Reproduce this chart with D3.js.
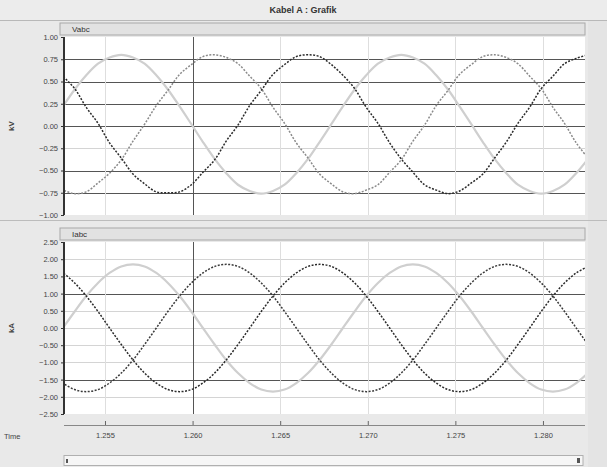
<!DOCTYPE html>
<html><head><meta charset="utf-8">
<script src="https://cdn.jsdelivr.net/npm/d3@7"></script>
<style>
body{margin:0;background:#e9e9e9}
text{font-family:"Liberation Sans",Arial,sans-serif}
</style>
</head><body>
<svg id="c" width="607" height="467"></svg>
<script>
// Sample times (s)
const time = [1.25194,1.25260,1.25327,1.25393,1.25460,1.25526,1.25593,1.25660,1.25726,1.25793,
  1.25859,1.25926,1.25993,1.26059,1.26126,1.26192,1.26259,1.26326,1.26392,1.26459,
  1.26525,1.26592,1.26659,1.26725,1.26792,1.26858,1.26925,1.26991,1.27058,1.27125,
  1.27191,1.27258,1.27324,1.27391,1.27458,1.27524,1.27591,1.27657,1.27724,1.27791,
  1.27857,1.27924,1.27990,1.28057,1.28123,1.28190,1.28257];

// Phase voltages (kV)
const vA = [0.70,0.56,0.42,0.21,0.03,-0.19,-0.36,-0.54,-0.65,-0.74,-0.75,-0.74,-0.66,-0.52,-0.38,-0.17,
  0.01,0.23,0.40,0.58,0.69,0.78,0.80,0.78,0.69,0.57,0.42,0.21,0.03,-0.19,-0.37,-0.52,
  -0.66,-0.72,-0.76,-0.73,-0.64,-0.54,-0.36,-0.18,0.03,0.21,0.42,0.56,0.70,0.76,0.80];
const vB = [0.02,0.22,0.41,0.57,0.70,0.77,0.80,0.77,0.70,0.57,0.41,0.22,0.02,-0.18,-0.37,-0.53,
  -0.66,-0.73,-0.76,-0.73,-0.66,-0.53,-0.37,-0.18,0.02,0.22,0.41,0.57,0.70,0.77,0.80,0.77,
  0.70,0.57,0.41,0.22,0.02,-0.18,-0.37,-0.53,-0.66,-0.73,-0.76,-0.73,-0.66,-0.53,-0.37];
const vC = [-0.66,-0.72,-0.76,-0.74,-0.64,-0.53,-0.38,-0.17,0.02,0.23,0.40,0.58,0.69,0.78,0.80,0.77,
  0.70,0.56,0.42,0.21,0.03,-0.19,-0.36,-0.54,-0.65,-0.74,-0.76,-0.72,-0.66,-0.52,-0.38,-0.17,
  0.01,0.23,0.40,0.58,0.69,0.78,0.80,0.77,0.70,0.56,0.42,0.21,0.03,-0.19,-0.36];

// Phase currents (kA)
const iA = [1.79,1.60,1.31,0.93,0.48,0.00,-0.48,-0.93,-1.31,-1.60,-1.79,-1.85,-1.79,-1.60,-1.31,-0.93,
  -0.48,0.00,0.48,0.93,1.31,1.60,1.79,1.85,1.79,1.60,1.31,0.93,0.48,0.00,-0.48,-0.93,
  -1.31,-1.60,-1.79,-1.85,-1.79,-1.60,-1.31,-0.93,-0.48,0.00,0.48,0.93,1.31,1.60,1.79];
const iB = [-0.48,0.00,0.48,0.93,1.31,1.60,1.79,1.85,1.79,1.60,1.31,0.93,0.48,0.00,-0.48,-0.93,
  -1.31,-1.60,-1.79,-1.85,-1.79,-1.60,-1.31,-0.93,-0.48,0.00,0.48,0.93,1.31,1.60,1.79,1.85,
  1.79,1.60,1.31,0.93,0.48,0.00,-0.48,-0.93,-1.31,-1.60,-1.79,-1.85,-1.79,-1.60,-1.31];
const iC = [-1.31,-1.60,-1.79,-1.85,-1.79,-1.60,-1.31,-0.93,-0.48,0.00,0.48,0.93,1.31,1.60,1.79,1.85,
  1.79,1.60,1.31,0.93,0.48,0.00,-0.48,-0.93,-1.31,-1.60,-1.79,-1.85,-1.79,-1.60,-1.31,-0.93,
  -0.48,0.00,0.48,0.93,1.31,1.60,1.79,1.85,1.79,1.60,1.31,0.93,0.48,0.00,-0.48];

// Axis ticks
const timeTicks = [1.255,1.260,1.265,1.270,1.275,1.280];
const vTicks = [1.00,0.75,0.50,0.25,0.00,-0.25,-0.50,-0.75,-1.00];
const iTicks = [2.50,2.00,1.50,1.00,0.50,0.00,-0.50,-1.00,-1.50,-2.00,-2.50];
const vMajor = [0.75,0.50,0.25,0.00,-0.50,-0.75];
const iMajor = [1.00,-1.50];
const cursorTime = 1.260;

const svg = d3.select("#c");
const W = 607, H = 467;
const L = 64, R = 585;

svg.append("rect").attr("width",W).attr("height",H).attr("fill","#e9e9e9");
// title bar
svg.append("rect").attr("x",0).attr("y",0).attr("width",W).attr("height",20).attr("fill","#ececec");
svg.append("line").attr("x1",0).attr("x2",W).attr("y1",20.5).attr("y2",20.5).attr("stroke","#b8b8b8");
svg.append("text").attr("x",303).attr("y",13).attr("text-anchor","middle")
  .attr("font-size",9).attr("font-weight","bold").attr("fill","#333").text("Kabel A : Grafik");
svg.append("rect").attr("x",588).attr("y",21).attr("width",19).attr("height",446).attr("fill","#e4e4e4");

const x = d3.scaleLinear().domain([1.25266,1.28240]).range([L,R]);

const defs = svg.append("defs");

function panel(id, top, bottom, title, unit, ticks, major, series) {
  const y = d3.scaleLinear().domain([ticks[ticks.length-1], ticks[0]]).range([bottom, top]);
  // header
  svg.append("rect").attr("x",L-4).attr("y",top-14).attr("width",R-L+4).attr("height",12)
    .attr("fill","#e2e2e2").attr("stroke","#a8a8a8");
  svg.append("text").attr("x",L+8).attr("y",top-5).attr("font-size",8).attr("fill","#333").text(title);
  // plot area
  svg.append("rect").attr("x",L).attr("y",top).attr("width",R-L).attr("height",bottom-top).attr("fill","#fff");
  const g = svg.append("g");
  // horizontal grid
  g.selectAll("line.h").data(ticks.slice(1,-1)).join("line")
    .attr("x1",L).attr("x2",R).attr("y1",d=>Math.round(y(d))+0.5).attr("y2",d=>Math.round(y(d))+0.5)
    .attr("stroke",d=>major.includes(d)?"#555":"#d4d4d4").attr("stroke-width",d=>major.includes(d)?1.2:1);
  // vertical grid
  g.selectAll("line.v").data(timeTicks).join("line")
    .attr("x1",d=>Math.round(x(d))+0.5).attr("x2",d=>Math.round(x(d))+0.5).attr("y1",top).attr("y2",bottom)
    .attr("stroke",d=>d===cursorTime?"#555":"#dedede").attr("stroke-width",1);
  // traces
  defs.append("clipPath").attr("id",id).append("rect").attr("x",L).attr("y",top).attr("width",R-L).attr("height",bottom-top);
  const gl = svg.append("g").attr("clip-path",`url(#${id})`);
  series.forEach(s => {
    const line = d3.line().x((d,i)=>x(time[i])).y(d=>y(d)).curve(d3.curveCatmullRom);
    gl.append("path").datum(s.values).attr("d",line).attr("fill","none")
      .attr("stroke",s.color).attr("stroke-width",s.width).attr("stroke-dasharray",s.dash||null);
  });
  // left axis
  const ax = svg.append("g").attr("transform",`translate(${L},0)`)
    .call(d3.axisLeft(y).tickValues(ticks).tickSize(3).tickPadding(3).tickFormat(d3.format(".2f")));
  ax.select(".domain").remove();
  ax.selectAll(".tick line").attr("stroke","#333");
  ax.selectAll(".tick text").attr("font-size",7.5).attr("fill","#444").attr("font-family","Liberation Sans, Arial");
  svg.append("line").attr("x1",L).attr("x2",L).attr("y1",top).attr("y2",bottom).attr("stroke","#333").attr("stroke-width",2);
  svg.append("text").attr("transform",`translate(14,${(top+bottom)/2}) rotate(-90)`)
    .attr("text-anchor","middle").attr("font-size",8).attr("font-weight","bold").attr("fill","#444").text(unit);
}

panel("cv", 37, 215, "Vabc", "kV", vTicks, vMajor, [
  {values:vB, color:"#cfcfcf", width:2.2},
  {values:vC, color:"#8a8a8a", width:1.5, dash:"2,1.5"},
  {values:vA, color:"#2a2a2a", width:1.5, dash:"2,1.5"}
]);
svg.append("line").attr("x1",0).attr("x2",W).attr("y1",220.5).attr("y2",220.5).attr("stroke","#bcbcbc");
panel("ci", 242, 414, "Iabc", "kA", iTicks, iMajor, [
  {values:iB, color:"#cfcfcf", width:2.2},
  {values:iC, color:"#3a3a3a", width:1.5, dash:"2,1.5"},
  {values:iA, color:"#2a2a2a", width:1.5, dash:"2,1.5"}
]);

// time axis
const xa = svg.append("g").attr("transform","translate(0,425)")
  .call(d3.axisBottom(x).tickValues(timeTicks).tickSize(-4).tickPadding(8).tickFormat(d3.format(".3f")));
xa.select(".domain").attr("stroke","#888").attr("d",`M${L},0.5H${R}`);
xa.selectAll(".tick line").attr("stroke","#666");
xa.selectAll(".tick text").attr("font-size",7.5).attr("fill","#444").attr("font-family","Liberation Sans, Arial");
svg.append("text").attr("x",4).attr("y",439).attr("font-size",7.5).attr("fill","#444").text("Time");

// scrollbar
svg.append("rect").attr("x",L).attr("y",455.5).attr("width",R-L-2).attr("height",10).attr("fill","#f6f6f6").attr("stroke","#b0b0b0");
svg.append("rect").attr("x",L+2).attr("y",459).attr("width",2).attr("height",4).attr("fill","#555");
svg.append("rect").attr("x",R-8).attr("y",458).attr("width",3).attr("height",5).attr("fill","#555");
</script>
</body></html>
